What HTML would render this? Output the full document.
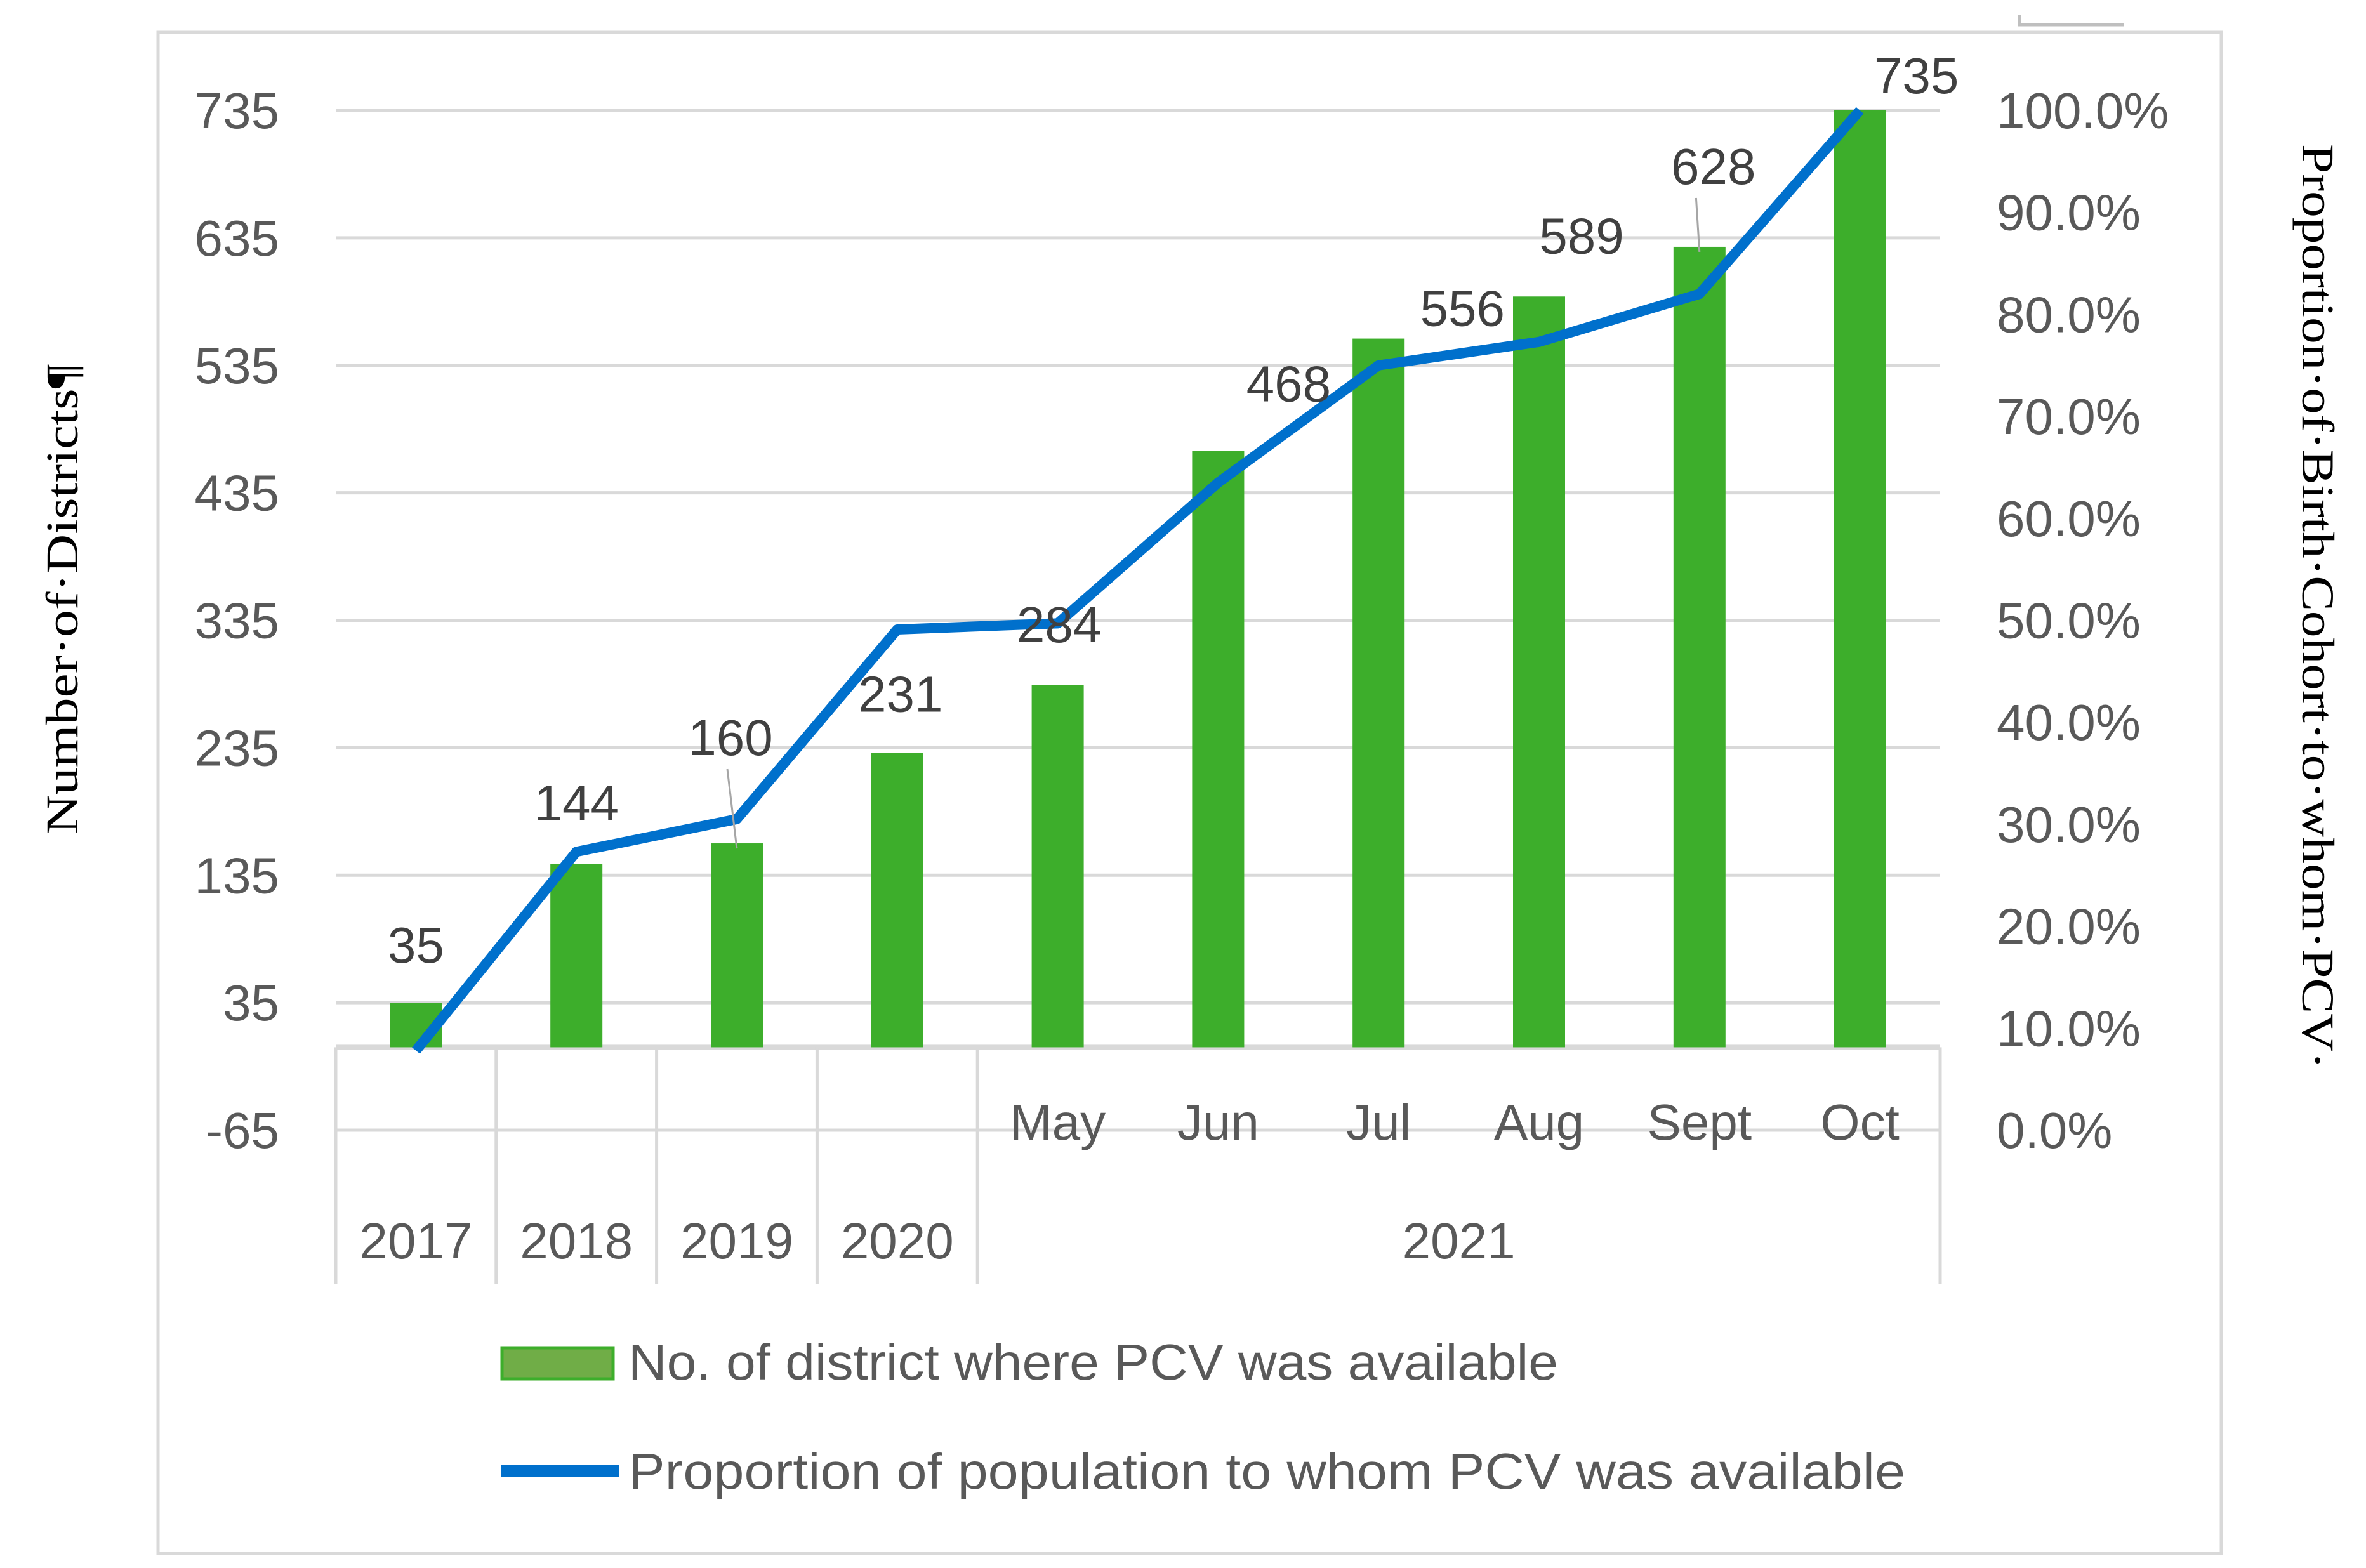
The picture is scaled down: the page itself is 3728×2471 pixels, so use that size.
<!DOCTYPE html>
<html><head><meta charset="utf-8"><style>html,body{margin:0;padding:0;background:#fff}svg{display:block}</style></head>
<body>
<svg id="chart" width="3728" height="2471" viewBox="0 0 3728 2471" xmlns="http://www.w3.org/2000/svg" font-family="'Liberation Sans', sans-serif">
<rect x="249" y="51" width="3251" height="2397" fill="#fff" stroke="#d9d9d9" stroke-width="5"/>
<path d="M3182 23 V39 H3346" fill="none" stroke="#bfbfbf" stroke-width="5"/>
<g id="grid"></g><g id="cataxis"></g><g id="bars"></g><g id="line"></g><g id="labels"></g><g id="ticks"></g>
<text transform="translate(122,944) rotate(-90)" text-anchor="middle" font-family="'Liberation Serif', serif" font-size="72" fill="#000" textLength="741" lengthAdjust="spacingAndGlyphs">Number·of·Districts¶</text>
<text transform="translate(3628,956) rotate(90)" text-anchor="middle" font-family="'Liberation Serif', serif" font-size="72" fill="#000" textLength="1458" lengthAdjust="spacingAndGlyphs">Proportion·of·Birth·Cohort·to·whom·PCV·</text>
<g>
<rect x="791" y="2124" width="175" height="49" fill="#70ad47" stroke="#3dae2b" stroke-width="5"/>
<text x="990" y="2174" font-size="80" fill="#595959" textLength="1465" lengthAdjust="spacingAndGlyphs">No. of district where PCV was available</text>
<line x1="789" y1="2318" x2="975" y2="2318" stroke="#0070cc" stroke-width="18"/>
<text x="990" y="2346" font-size="80" fill="#595959" textLength="2012" lengthAdjust="spacingAndGlyphs">Proportion  of population to whom PCV was available</text>
</g>
</svg>
<script>
const categories = ["", "", "", "", "May", "Jun", "Jul", "Aug", "Sept", "Oct"];
const years = ["2017", "2018", "2019", "2020", "2021"];
const yearSpans = [1, 1, 1, 1, 6];
const districts = [35, 144, 160, 231, 284, 468, 556, 589, 628, 735];
const proportion = [7.8, 27.3, 30.5, 49.1, 49.7, 63.5, 75.0, 77.3, 82.0, 100.0];
const leftTicks = [-65, 35, 135, 235, 335, 435, 535, 635, 735];
const rightTicks = ["0.0%", "10.0%", "20.0%", "30.0%", "40.0%", "50.0%", "60.0%", "70.0%", "80.0%", "90.0%", "100.0%"];
const labelDx = [0, 0, -10, 5, 2, 111, 132, 67, 22, 89];
const labelDy = [63, 68, 139, 65, 68, 78, 20, 68, 99, 27];

const NS = "http://www.w3.org/2000/svg";
const PL = 529, PR = 3057, N = districts.length, BW = (PR - PL) / N;
const Y0 = 1781, Y1 = 174;
const yL = v => Y0 + (v - (-65)) * (Y1 - Y0) / 800;
const yR = p => Y0 + p * (Y1 - Y0) / 100;
const xC = i => PL + BW * (i + 0.5);
function mk(tag, attrs, parent) { const e = document.createElementNS(NS, tag); for (const k in attrs) e.setAttribute(k, attrs[k]); parent.appendChild(e); return e; }
const grid = document.getElementById('grid'), cat = document.getElementById('cataxis'), bars = document.getElementById('bars'), lineG = document.getElementById('line'), lab = document.getElementById('labels'), ticks = document.getElementById('ticks');

leftTicks.forEach((t, i) => {
  const y = yL(t);
  const g = mk('line', {x1: PL, x2: PR, y1: y, y2: y, stroke: '#d9d9d9', 'stroke-width': 5}, grid);
  
  
  const tx = mk('text', {x: 440, y: y + 28, 'text-anchor': 'end', 'font-size': 80, fill: '#595959'}, ticks);
  tx.textContent = t;
  
  
});
rightTicks.forEach((t, i) => {
  const tx = mk('text', {x: 3146, y: yR(i * 10) + 28, 'font-size': 80, fill: '#595959'}, ticks);
  tx.textContent = t;
  
  
});
// category axis
const base = yL(0);
const ax = mk('line', {x1: PL, x2: PR, y1: base, y2: base, stroke: '#d9d9d9', 'stroke-width': 8}, cat);


let k = 0;
const seps = [0];
yearSpans.forEach((s, i) => {
  const xm = PL + BW * (k + s / 2);
  const t = mk('text', {x: xm, y: 1983, 'text-anchor': 'middle', 'font-size': 80, fill: '#595959'}, cat);
  t.textContent = years[i];
  
  
  k += s; seps.push(k);
});
seps.forEach(s => {
  const l = mk('line', {x1: PL + BW * s, x2: PL + BW * s, y1: base, y2: 2024, stroke: '#d9d9d9', 'stroke-width': 5}, cat);
  
  
});
categories.forEach((c, i) => {
  if (!c) return;
  const t = mk('text', {x: xC(i), y: 1796, 'text-anchor': 'middle', 'font-size': 80, fill: '#595959'}, cat);
  t.textContent = c;
  
  
});
// bars
districts.forEach((v, i) => {
  const top = yL(v);
  const r = mk('rect', {x: xC(i) - 41, y: top, width: 82, height: base - top, fill: '#3dae2b'}, bars);
  
  
  const t = mk('text', {x: xC(i) + labelDx[i], y: top - labelDy[i], 'text-anchor': 'middle', 'font-size': 80, fill: '#404040'}, lab);
  t.textContent = v;
  
  
  if (labelDy[i] > 90) {
    const ll = mk('line', {x1: xC(i) + labelDx[i] * 0.3 - 12, y1: top - labelDy[i] + 22, x2: xC(i), y2: top + 8, stroke: '#a6a6a6', 'stroke-width': 3}, lab);
    
    
  }
});
// line
const pts = proportion.map((p, i) => xC(i) + ',' + yR(p)).join(' ');
const pl = mk('polyline', {points: pts, fill: 'none', stroke: '#0070cc', 'stroke-width': 16, 'stroke-linejoin': 'round'}, lineG);


</script>
</body></html>
